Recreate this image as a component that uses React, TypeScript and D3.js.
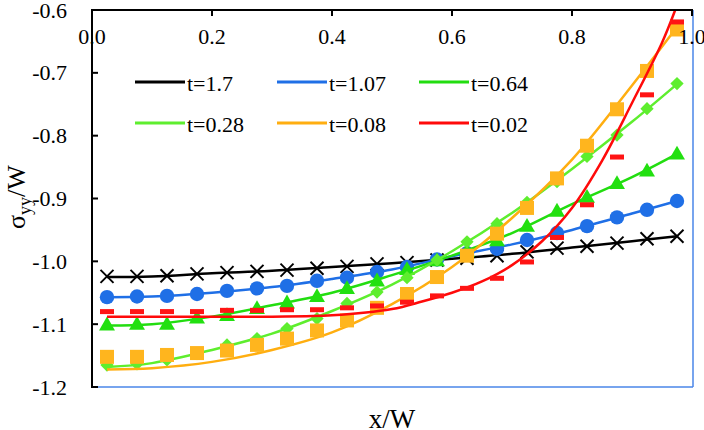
import React from "react";
import * as d3 from "d3";

const W = 704;
const H = 430;

const xTicks = [0, 0.2, 0.4, 0.6, 0.8, 1.0];
const xTickLabels = ["0.0", "0.2", "0.4", "0.6", "0.8", "1.0"];
const yTicks = [-1.2, -1.1, -1.0, -0.9, -0.8, -0.7, -0.6];
const yTickLabels = ["-1.2", "-1.1", "-1.0", "-0.9", "-0.8", "-0.7", "-0.6"];

const seriesNames = ["t=1.7", "t=1.07", "t=0.64", "t=0.28", "t=0.08", "t=0.02"];

// marker positions x/W
const markerX = [0.025, 0.075, 0.125, 0.175, 0.225, 0.275, 0.325, 0.375, 0.425, 0.475, 0.525, 0.575, 0.625, 0.675, 0.725, 0.775, 0.825, 0.875, 0.925, 0.975];

const mBlack = [-1.024, -1.024, -1.023, -1.020, -1.018, -1.016, -1.014, -1.011, -1.008, -1.004, -1.002, -0.998, -0.995, -0.991, -0.985, -0.979, -0.976, -0.971, -0.964, -0.960];
const mBlue = [-1.057, -1.056, -1.055, -1.052, -1.047, -1.043, -1.039, -1.031, -1.026, -1.017, -1.009, -0.997, -0.987, -0.980, -0.966, -0.955, -0.944, -0.930, -0.918, -0.904];
const mGreen64 = [-1.101, -1.100, -1.100, -1.090, -1.086, -1.075, -1.066, -1.056, -1.043, -1.031, -1.013, -0.999, -0.984, -0.967, -0.944, -0.920, -0.898, -0.876, -0.856, -0.829];
const mGreen28 = [-1.165, -1.163, -1.157, -1.147, -1.133, -1.123, -1.107, -1.091, -1.067, -1.049, -1.026, -0.998, -0.969, -0.940, -0.906, -0.873, -0.833, -0.799, -0.757, -0.717];
const mOrange = [-1.152, -1.152, -1.149, -1.146, -1.142, -1.133, -1.123, -1.110, -1.094, -1.074, -1.052, -1.025, -0.991, -0.956, -0.915, -0.868, -0.816, -0.758, -0.697, -0.631];
const mRed = [-1.080, -1.080, -1.080, -1.080, -1.078, -1.078, -1.077, -1.077, -1.074, -1.071, -1.065, -1.055, -1.043, -1.027, -1.001, -0.962, -0.910, -0.834, -0.735, -0.619];

// fitted curves
const lineX = [0.025, 0.1, 0.2, 0.3, 0.4, 0.5, 0.6, 0.7, 0.8, 0.9, 0.975];
const lBlack = [-1.025, -1.024, -1.019, -1.015, -1.009, -1.003, -0.996, -0.988, -0.978, -0.968, -0.960];
const lBlue = [-1.057, -1.056, -1.050, -1.041, -1.028, -1.013, -0.992, -0.973, -0.950, -0.924, -0.904];
const lGreen64 = [-1.102, -1.100, -1.088, -1.070, -1.050, -1.022, -0.991, -0.955, -0.909, -0.866, -0.829];
const lGreen28 = [-1.168, -1.162, -1.141, -1.115, -1.079, -1.037, -0.984, -0.923, -0.853, -0.778, -0.718];
const lOrange = [-1.172, -1.170, -1.160, -1.141, -1.113, -1.068, -1.009, -0.931, -0.838, -0.720, -0.627];
const redLineX = [0.025, 0.1, 0.2, 0.3, 0.4, 0.5, 0.55, 0.6, 0.65, 0.7, 0.75, 0.8, 0.85, 0.9, 0.95, 0.972];
const lRed = [-1.088, -1.088, -1.088, -1.088, -1.086, -1.076, -1.064, -1.050, -1.032, -1.006, -0.968, -0.915, -0.840, -0.748, -0.652, -0.600];

const colors = ["#000000", "#1f6fe6", "#22dd10", "#5eee2e", "#ffae10", "#ff0a0a"];
const markerColors = ["#000000", "#1f6fe6", "#22e010", "#5eee2e", "#ffb51e", "#ff1414"];
const markerTypes = ["x", "circle", "triangle", "diamond", "square", "dash"];

const markerSets = [mBlack, mBlue, mGreen64, mGreen28, mOrange, mRed];
const lineSets: [number[], number[]][] = [
  [lineX, lBlack],
  [lineX, lBlue],
  [lineX, lGreen64],
  [lineX, lGreen28],
  [lineX, lOrange],
  [redLineX, lRed],
];

const left = 92, right = 692, top = 10, bottom = 387;
const x = d3.scaleLinear().domain([0, 1]).range([left, right]);
const y = d3.scaleLinear().domain([-1.2, -0.6]).range([bottom, top]);

const FONT = "Liberation Serif";

function Marker({ type, cx, cy, color }: { type: string; cx: number; cy: number; color: string }) {
  if (type === "x") {
    const s = 6.5;
    return (
      <g stroke={color} strokeWidth={2}>
        <line x1={cx - s} y1={cy - s} x2={cx + s} y2={cy + s} />
        <line x1={cx - s} y1={cy + s} x2={cx + s} y2={cy - s} />
      </g>
    );
  }
  if (type === "circle") return <circle cx={cx} cy={cy} r={7.2} fill={color} />;
  if (type === "triangle") {
    const p = d3.symbol(d3.symbolTriangle, 110)();
    return <path d={p || ""} transform={`translate(${cx},${cy + 1})`} fill={color} />;
  }
  if (type === "diamond") {
    const p = d3.symbol(d3.symbolSquare, 88)();
    return <path d={p || ""} transform={`translate(${cx},${cy}) rotate(45)`} fill={color} />;
  }
  if (type === "square") return <rect x={cx - 7} y={cy - 7} width={14} height={14} fill={color} />;
  return <rect x={cx - 7} y={cy - 2.5} width={14} height={5} fill={color} />;
}

export default function App() {
  const lineGen = d3
    .line<[number, number]>()
    .x((d) => x(d[0]))
    .y((d) => y(d[1]))
    .curve(d3.curveCatmullRom.alpha(0.5));

  const legendCols = [135, 277, 419];
  const legendRows = [82, 123];

  return (
    <div style={{ position: "absolute", left: 0, top: 0 }}>
      <svg width={W} height={H} style={{ display: "block", background: "#fff" }} fontFamily={FONT}>
        <defs>
          <clipPath id="plotclip">
            <rect x={left} y={top} width={right - left + 2} height={bottom - top} />
          </clipPath>
        </defs>
        {/* blue plot border (bottom, right) */}
        <line x1={left} y1={bottom} x2={right + 1} y2={bottom} stroke="#4a86e8" strokeWidth={1.5} />
        <line x1={right + 1} y1={top} x2={right + 1} y2={bottom} stroke="#4a86e8" strokeWidth={1.5} />

        {/* series */}
        <g clipPath="url(#plotclip)">
          {seriesNames.map((name, i) => {
            const [lx, ly] = lineSets[i];
            const pts: [number, number][] = lx.map((v, k) => [v, ly[k]]);
            return (
              <g key={name}>
                <path d={lineGen(pts) || ""} fill="none" stroke={colors[i]} strokeWidth={2.5} />
                {markerX.map((mx, k) => (
                  <Marker key={k} type={markerTypes[i]} cx={x(mx)} cy={y(markerSets[i][k])} color={markerColors[i]} />
                ))}
              </g>
            );
          })}
        </g>

        {/* top x axis */}
        <line x1={left - 1} y1={top} x2={right + 1} y2={top} stroke="#000" strokeWidth={2} />
        {xTicks.map((t, i) => (
          <g key={t}>
            <line x1={x(t)} y1={top} x2={x(t)} y2={top + 6} stroke="#000" strokeWidth={2} />
            <text x={x(t)} y={44} textAnchor="middle" fontSize={22} fill="#000">
              {xTickLabels[i]}
            </text>
          </g>
        ))}

        {/* left y axis */}
        <line x1={left} y1={top - 1} x2={left} y2={bottom + 1} stroke="#000" strokeWidth={2} />
        {yTicks.map((t, i) => (
          <g key={t}>
            <line x1={left} y1={y(t)} x2={left + 6} y2={y(t)} stroke="#000" strokeWidth={2} />
            <text x={67} y={y(t) + 7.5} textAnchor="end" fontSize={22} fill="#000">
              {yTickLabels[i]}
            </text>
          </g>
        ))}

        {/* legend */}
        {seriesNames.map((name, i) => {
          const cx = legendCols[i % 3];
          const cy = legendRows[Math.floor(i / 3)];
          return (
            <g key={"lg" + name}>
              <line x1={cx} y1={cy} x2={cx + 50} y2={cy} stroke={colors[i]} strokeWidth={3} />
              <text x={cx + 52} y={cy + 8.5} fontSize={22} fill="#000">
                {name}
              </text>
            </g>
          );
        })}

        {/* axis titles */}
        <text x={392} y={428} textAnchor="middle" fontSize={27} fill="#000">
          x/W
        </text>
        <text transform="translate(25,197) rotate(-90)" textAnchor="middle" fontSize={26} fill="#000">
          σ<tspan fontSize={18} dy={6}>yy</tspan>
          <tspan dy={-6}>/W</tspan>
        </text>
      </svg>
    </div>
  );
}
